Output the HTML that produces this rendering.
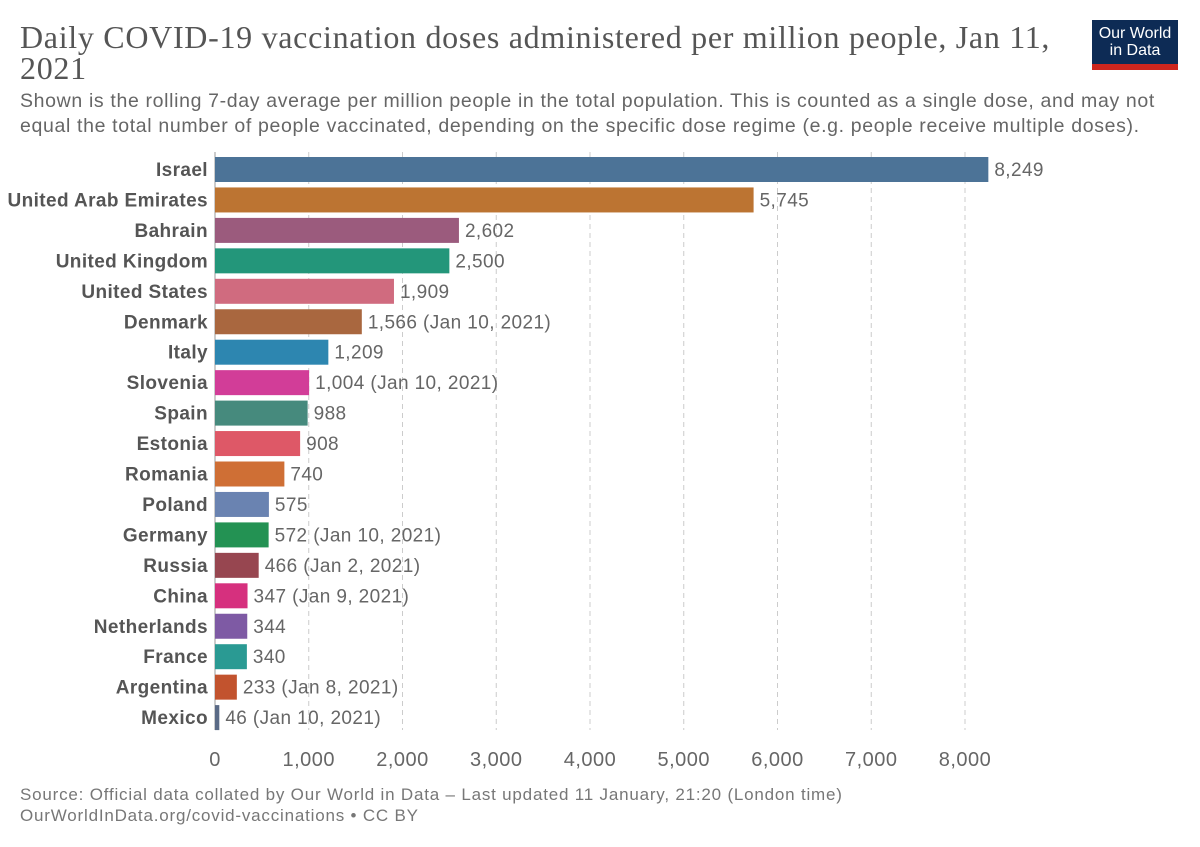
<!DOCTYPE html>
<html><head><meta charset="utf-8"><style>
body{margin:0;background:#fff;width:1200px;height:847px;overflow:hidden;font-family:"Liberation Sans",sans-serif}
#title{position:absolute;left:20px;top:22px;font-family:"Liberation Serif",serif;font-size:32px;letter-spacing:0.7px;line-height:31px;color:#555;width:1060px}
#sub{position:absolute;left:20px;top:89px;font-size:19.5px;letter-spacing:0.65px;line-height:25px;color:#666;width:1155px}
#logo{position:absolute;left:1092px;top:20px;width:86px;height:50px;background:#0d2b55;border-bottom:6px solid #ce261e;box-sizing:border-box;color:#fff;font-size:16px;line-height:17px;text-align:center;padding-top:5px}
#src{position:absolute;left:20px;top:784px;font-size:17px;letter-spacing:0.8px;line-height:21px;color:#777}
</style></head><body>
<div id="title">Daily COVID-19 vaccination doses administered per million people, Jan 11, 2021</div>
<div id="sub">Shown is the rolling 7-day average per million people in the total population. This is counted as a single dose, and may not equal the total number of people vaccinated, depending on the specific dose regime (e.g. people receive multiple doses).</div>
<div id="logo">Our World<br>in Data</div>
<svg id="chart" width="1200" height="847" style="position:absolute;left:0;top:0"></svg>
<div id="src">Source: Official data collated by Our World in Data – Last updated 11 January, 21:20 (London time)<br>OurWorldInData.org/covid-vaccinations • CC BY</div>
<script>
const countries=["Israel","United Arab Emirates","Bahrain","United Kingdom","United States","Denmark","Italy","Slovenia","Spain","Estonia","Romania","Poland","Germany","Russia","China","Netherlands","France","Argentina","Mexico"];
const values=[8249,5745,2602,2500,1909,1566,1209,1004,988,908,740,575,572,466,347,344,340,233,46];
const notes=["","","","","","(Jan 10, 2021)","","(Jan 10, 2021)","","","","","(Jan 10, 2021)","(Jan 2, 2021)","(Jan 9, 2021)","","","(Jan 8, 2021)","(Jan 10, 2021)"];
const colors=["#4c7397","#bc7432","#9b5b7d","#23967a","#d06b7f","#a9673f","#2d86b0","#d23d98","#468a7d","#de5867","#cf6f35","#6a83b1","#239253","#974650","#d6307e","#7e5aa4","#2a9a93","#c2532e","#5a6a86"];
const ticks=[0,1000,2000,3000,4000,5000,6000,7000,8000];
const NS="http://www.w3.org/2000/svg",svg=document.getElementById('chart');
const x=v=>215+v*0.09375, y=i=>157+i*30.45;
function mk(t,a,txt){const e=document.createElementNS(NS,t);for(const k in a)e.setAttribute(k,a[k]);if(txt!=null)e.textContent=txt;svg.appendChild(e);return e;}
ticks.forEach(t=>{
 if(t>0){const l=mk('line',{x1:x(t),x2:x(t),y1:152,y2:730,stroke:'#ccc','stroke-dasharray':'5,4'});
 }
 const tx=mk('text',{x:x(t),y:766,'text-anchor':'middle','font-size':20,'letter-spacing':0.5,fill:'#666'},t.toLocaleString('en-US'));
 
});
const ax=mk('line',{x1:215,x2:215,y1:152,y2:730,stroke:'#999'});

countries.forEach((c,i)=>{
 const lb=mk('text',{x:208,y:y(i)+19,'text-anchor':'end','font-size':19,'letter-spacing':0.4,'font-weight':'bold',fill:'#555'},c);
 
 const r=mk('rect',{x:215,y:y(i),width:Math.max(x(values[i])-215,2),height:25,fill:colors[i]});
 
 const v=mk('text',{x:x(values[i])+6,y:y(i)+19,'font-size':19,'letter-spacing':0.4,fill:'#666'},values[i].toLocaleString('en-US')+(notes[i]?' '+notes[i]:''));
 
});
</script>
</body></html>
